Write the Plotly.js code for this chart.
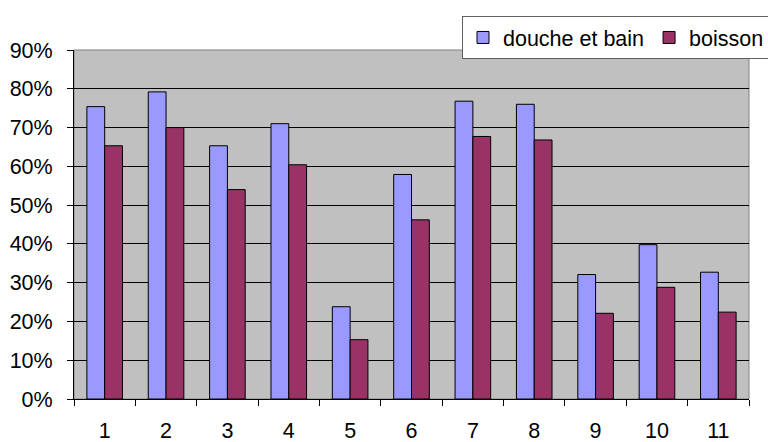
<!DOCTYPE html>
<html>
<head>
<meta charset="utf-8">
<script src="https://cdn.plot.ly/plotly-3.0.1.min.js"></script>
<style>html,body{margin:0;padding:0;background:#fff}#chart{width:768px;height:442px}</style>
</head>
<body>
<div id="chart"></div>
<script>
const categories = ['1','2','3','4','5','6','7','8','9','10','11'];
const doucheEtBain = [0.754, 0.792, 0.653, 0.710, 0.238, 0.579, 0.768, 0.760, 0.321, 0.398, 0.327];
const boisson = [0.653, 0.700, 0.540, 0.604, 0.153, 0.462, 0.677, 0.668, 0.221, 0.288, 0.224];
const seriesNames = ['douche et bain', 'boisson'];
const yTickVals = [0, 0.1, 0.2, 0.3, 0.4, 0.5, 0.6, 0.7, 0.8, 0.9];

const FONT = 'Liberation Sans, Arial, sans-serif';
const traces = [
  {type:'bar', name: seriesNames[0], x: categories, y: doucheEtBain,
   marker:{color:'#9999FF', line:{color:'#000000', width:1}}, hoverinfo:'skip'},
  {type:'bar', name: seriesNames[1], x: categories, y: boisson,
   marker:{color:'#993366', line:{color:'#000000', width:1}}, hoverinfo:'skip'}
];
const layout = {
  width:768, height:442,
  margin:{l:74, r:19, t:50, b:43, autoexpand:false},
  paper_bgcolor:'#ffffff', plot_bgcolor:'#C0C0C0',
  font:{family:FONT, size:21.5, color:'#000000'},
  barmode:'group', bargap:0.42, bargroupgap:0,
  showlegend:true,
  legend:{orientation:'h', x:(462-74)/675, xanchor:'left', y:1+(50-16)/349, yanchor:'top',
    bgcolor:'#ffffff', bordercolor:'#606060', borderwidth:1,
    font:{family:FONT, size:21.5, color:'#000000'}, itemwidth:30, traceorder:'normal'},
  xaxis:{type:'category', categoryorder:'array', categoryarray:categories,
    showline:true, linecolor:'#000000', linewidth:1,
    ticks:'outside', tickson:'boundaries', ticklen:6, tickcolor:'#000000', tickwidth:1,
    ticklabelstandoff:12, showgrid:false, zeroline:false, fixedrange:true},
  yaxis:{range:[0,0.9], tickvals:yTickVals, tickformat:'.0%',
    showline:true, linecolor:'#000000', linewidth:1,
    ticks:'outside', ticklen:6, tickcolor:'#000000', tickwidth:1,
    ticklabelstandoff:10,
    showgrid:true, gridcolor:'#000000', gridwidth:1, zeroline:false, fixedrange:true},
  shapes:[{type:'rect', xref:'paper', yref:'paper', x0:0, x1:1, y0:0, y1:1,
    line:{color:'#808080', width:1}, fillcolor:'rgba(0,0,0,0)', layer:'below'}]
};
Plotly.newPlot('chart', traces, layout, {staticPlot:true, displayModeBar:false});
</script>
</body>
</html>
